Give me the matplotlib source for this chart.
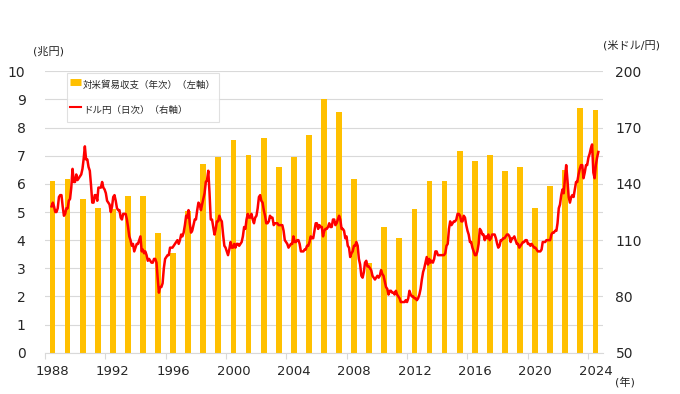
import numpy as np
import pandas as pd
import matplotlib
matplotlib.use("Agg")
import matplotlib.pyplot as plt
import matplotlib.dates as mdates
from matplotlib.lines import Line2D
from datetime import datetime

plt.rcParams['font.family'] = ['DejaVu Sans', 'Noto Sans CJK JP']

# ---- data ----
years = list(range(1988, 2025))
trade_balance = [6.09, 6.18, 5.46, 5.13, 5.10, 5.57, 5.57, 4.24, 3.54, 5.04,
                 6.69, 6.97, 7.57, 7.04, 7.64, 6.59, 6.97, 7.73, 9.03, 8.55,
                 6.18, 3.20, 4.45, 4.08, 5.11, 6.11, 6.10, 7.17, 6.81, 7.01,
                 6.46, 6.61, 5.15, 5.91, 6.50, 8.71, 8.63]

usdjpy_monthly = [
    128, 130, 128, 125, 125, 127, 133, 134, 134, 128, 123, 124,   # 1988
    127, 127, 131, 132, 138, 148, 141, 141, 145, 142, 143, 144,   # 1989
    145, 148, 153, 160, 153, 153, 149, 147, 139, 130, 130, 134,   # 1990
    134, 131, 138, 138, 138, 141, 138, 137, 135, 131, 130, 129,   # 1991
    125, 128, 133, 134, 131, 127, 126, 126, 122, 121, 124, 124,   # 1992
    124, 121, 117, 112, 110, 107, 108, 104, 106, 108, 108, 110,   # 1993
    112, 104, 105, 103, 104, 102, 99, 100, 99, 98, 98, 100,       # 1994
    100, 98, 90, 82, 85, 85, 87, 95, 100, 101, 102, 102,          # 1995
    106, 106, 106, 107, 108, 109, 110, 108, 110, 113, 112, 114,   # 1996
    118, 123, 122, 126, 119, 114, 115, 118, 121, 121, 126, 130,   # 1997
    129, 126, 129, 132, 135, 141, 142, 147, 135, 121, 121, 117,   # 1998
    113, 116, 120, 120, 123, 121, 120, 113, 107, 106, 104, 102,   # 1999
    105, 109, 106, 106, 108, 106, 108, 108, 107, 108, 109, 112,   # 2000
    117, 116, 121, 124, 122, 122, 124, 121, 119, 122, 123, 127,   # 2001
    133, 134, 131, 130, 126, 123, 119, 119, 120, 123, 122, 122,   # 2002
    118, 119, 119, 119, 118, 118, 118, 118, 115, 110, 109, 108,   # 2003
    106, 107, 108, 108, 112, 109, 109, 110, 110, 108, 104, 104,   # 2004
    104, 105, 105, 107, 107, 109, 112, 111, 111, 115, 119, 119,   # 2005
    116, 118, 117, 117, 112, 115, 116, 116, 117, 119, 117, 117,   # 2006
    121, 121, 118, 119, 121, 123, 121, 116, 116, 115, 111, 112,   # 2007
    107, 106, 101, 103, 104, 107, 107, 109, 107, 100, 97, 91,     # 2008
    90, 93, 98, 99, 96, 96, 95, 94, 91, 90, 89, 90,               # 2009
    91, 90, 91, 94, 92, 91, 88, 85, 84, 81, 83, 83,               # 2010
    82, 82, 81, 83, 81, 80, 79, 77, 77, 77, 77, 78,               # 2011
    77, 79, 83, 81, 80, 80, 79, 79, 78, 79, 81, 84,               # 2012
    89, 93, 95, 98, 101, 97, 100, 98, 99, 98, 100, 104,           # 2013
    104, 102, 102, 102, 102, 102, 102, 103, 107, 108, 116, 120,   # 2014
    118, 119, 120, 120, 121, 124, 124, 123, 120, 120, 123, 122,   # 2015
    118, 115, 113, 109, 109, 106, 104, 102, 102, 104, 108, 116,   # 2016
    115, 113, 113, 110, 112, 111, 113, 110, 111, 113, 113, 113,   # 2017
    111, 108, 106, 107, 110, 110, 111, 111, 112, 113, 113, 112,   # 2018
    109, 111, 111, 112, 110, 108, 108, 106, 107, 108, 109, 109,   # 2019
    110, 110, 108, 108, 107, 108, 107, 106, 106, 105, 104, 104,   # 2020
    104, 105, 109, 109, 109, 110, 110, 110, 110, 113, 114, 114,   # 2021
    115, 115, 119, 127, 129, 134, 137, 135, 143, 150, 142, 133,   # 2022
    130, 133, 134, 133, 137, 141, 141, 145, 148, 150, 150, 143,   # 2023
    146, 150, 150, 154, 156, 159, 161, 146, 143, 150, 154, 157,   # 2024
]

left_ticks = list(range(0, 11))
right_ticks = [50, 80, 110, 140, 170, 200]
xtick_years = list(range(1988, 2025, 4))

label_bar = '対米貿易収支（年次）（左軸）'
label_line = 'ドル円（日次）（右軸）'

# ---- styles ----
BAR_COLOR = '#FFC000'
LINE_COLOR = '#FF0000'
GRID_COLOR = '#D9D9D9'
TEXT_COLOR = '#262626'

fig = plt.figure(figsize=(6.8, 3.94), dpi=100)
pos = [45 / 680, 41.3 / 394, (603 - 45) / 680, (352.7 - 71.3) / 394]
ax = fig.add_axes(pos)

bar_dates = [datetime(y, 7, 1) for y in years]
ax.bar(bar_dates, trade_balance, width=140, color=BAR_COLOR, zorder=2)
ax.set_xlim(datetime(years[0], 1, 1), datetime(years[-1] + 1, 1, 1))
ax.set_ylim(0, 10)
ax.set_yticks(left_ticks)
ax.grid(axis='y', color=GRID_COLOR, linewidth=0.8, zorder=0)
ax.set_axisbelow(True)
for s in ['top', 'right', 'left']:
    ax.spines[s].set_visible(False)
ax.spines['bottom'].set_color(GRID_COLOR)
ax.spines['bottom'].set_linewidth(0.8)
ax.tick_params(axis='y', length=0, pad=14, labelsize=10, labelcolor=TEXT_COLOR)

ax.set_xticks([datetime(y, 1, 1) for y in xtick_years])
ax.set_xticklabels([])
ax.set_xticks([datetime(y, 7, 1) for y in xtick_years], minor=True)
ax.set_xticklabels([str(y) for y in xtick_years], minor=True)
ax.tick_params(axis='x', which='major', length=4, color=GRID_COLOR, width=0.8)
ax.tick_params(axis='x', which='minor', length=0, pad=9, labelsize=9.5, labelcolor=TEXT_COLOR)

# line on its own (secondary) horizontal scale
ax2 = fig.add_axes(pos, facecolor='none')
line_dates = pd.date_range(f'{years[0]}-01-01', periods=len(usdjpy_monthly), freq='MS') + pd.Timedelta(days=14)
ax2.plot(line_dates, usdjpy_monthly, color=LINE_COLOR, linewidth=1.8, zorder=3)
x0 = mdates.date2num(datetime(years[0], 1, 1))
x1 = mdates.date2num(datetime(years[-1] + 1, 1, 1))
span = x1 - x0
ax2.set_xlim(x0 - span * 6 / 548, x1 + span * 4 / 548)
ax2.set_ylim(50, 200)
ax2.set_yticks(right_ticks)
ax2.yaxis.tick_right()
ax2.tick_params(axis='y', length=0, pad=9, labelsize=10, labelcolor=TEXT_COLOR)
ax2.set_xticks([])
for s in ax2.spines.values():
    s.set_visible(False)

# unit labels
fig.text(48 / 680, 1 - 51.5 / 394, '(兆円)', ha='center', va='center', fontsize=8,
         color=TEXT_COLOR)
fig.text(631 / 680, 1 - 45 / 394, '(米ドル/円)', ha='center', va='center', fontsize=8,
         color=TEXT_COLOR)
fig.text(625 / 680, 1 - 382 / 394, '(年)', ha='center', va='center', fontsize=8,
         color=TEXT_COLOR)

handles = [Line2D([0, 1], [0, 0], color=BAR_COLOR, linewidth=5, solid_capstyle='butt'),
           Line2D([0, 1], [0, 0], color=LINE_COLOR, linewidth=1.5)]
leg = ax2.legend(handles, [label_bar, label_line], loc='upper left',
                 bbox_to_anchor=(67 / 680, 1 - 73 / 394), bbox_transform=fig.transFigure,
                 fontsize=6.8, frameon=True, fancybox=False, borderpad=0.3,
                 handleheight=2.6, handlelength=1.2, handletextpad=0.2,
                 labelspacing=0.7, borderaxespad=0)
leg.get_frame().set_edgecolor(GRID_COLOR)
leg.get_frame().set_linewidth(0.8)
for t in leg.get_texts():
    t.set_color(TEXT_COLOR)

fig.savefig('out.png', dpi=100)
